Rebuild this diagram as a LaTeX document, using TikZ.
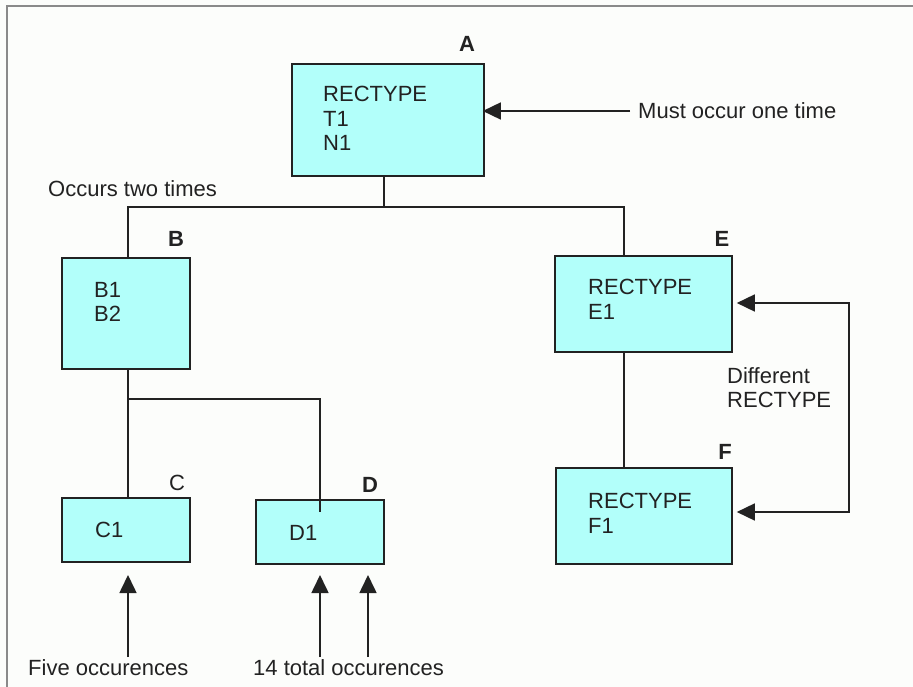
\documentclass[tikz,border=0pt]{standalone}
\usepackage{fontspec}
\setmainfont{Liberation Sans}
\usetikzlibrary{arrows.meta}
\definecolor{boxfill}{RGB}{178,255,250}
\definecolor{ink}{RGB}{34,34,34}
\definecolor{framegray}{RGB}{138,138,138}
\definecolor{bg}{RGB}{252,253,251}
\begin{document}
\begin{tikzpicture}[x=1pt,y=-1pt,
  box/.style={draw=ink,fill=boxfill,line width=1.6pt,inner sep=0pt},
  conn/.style={draw=ink,line width=1.6pt},
  tip/.tip={Triangle[length=18pt,width=17pt]},
  arr/.style={draw=ink,line width=1.6pt,-tip},
  txt/.style={inner sep=0pt,font=\fontsize{22}{24.5}\selectfont,text=ink,align=left},
  lbl/.style={inner sep=0pt,font=\fontsize{22}{24.5}\selectfont\bfseries,text=ink}]
\useasboundingbox (0,0) rectangle (913,687);
\fill[bg] (0,0) rectangle (913,687);
\draw[framegray,line width=2.2pt] (7,687) -- (7,6) -- (913,6);

% boxes
\node[box,minimum width=192pt,minimum height=112pt] (A) at (388,120) {};
\node[box,minimum width=128pt,minimum height=111pt] (B) at (126,313.5) {};
\node[box,minimum width=128pt,minimum height=64pt] (C) at (126,530) {};
\node[box,minimum width=128pt,minimum height=64pt] (D) at (320,532) {};
\node[box,minimum width=177pt,minimum height=96pt] (E) at (643.5,304) {};
\node[box,minimum width=176pt,minimum height=96pt] (F) at (644,516) {};

% box texts
\node[txt,anchor=north west] (Atxt) at (323,86) {RECTYPE\\T1\\N1};
\node[txt,anchor=north west] (Btxt) at (94,282) {B1\\B2};
\node[txt,anchor=west] (Ctxt) at (95,530) {C1};
\node[txt,anchor=west] (Dtxt) at (289,533) {D1};
\node[txt,anchor=north west] (Etxt) at (588,279) {RECTYPE\\E1};
\node[txt,anchor=north west] (Ftxt) at (588,493) {RECTYPE\\F1};

% letter labels
\node[lbl] (Alab) at (467,44) {A};
\node[lbl] (Blab) at (176,239) {B};
\node[txt] (Clab) at (177,483) {C};
\node[lbl] (Dlab) at (370,485) {D};
\node[lbl] (Elab) at (722,239) {E};
\node[lbl] (Flab) at (725,452) {F};

% annotations
\node[txt,anchor=west] (must) at (638,111) {Must occur one time};
\node[txt,anchor=west] (two) at (48,189) {Occurs two times};
\node[txt,anchor=north west] (diff) at (727,367) {Different\\RECTYPE};
\node[txt,anchor=west] (five) at (28,668) {Five occurences};
\node[txt,anchor=west] (total) at (253,668) {14 total occurences};

% tree connectors
\coordinate (jA) at (384,207);
\coordinate (busL) at (128,207);
\coordinate (busR) at (624,207);
\coordinate (jB) at (128,399);
\coordinate (busD) at (320,399);
\coordinate (dEnd) at (320,512);
\draw[conn] (jA |- A.south) -- (jA);
\draw[conn] (busL |- B.north) -- (busL) -- (busR) -- (busR |- E.north);
\draw[conn] (jB |- B.south) -- (jB) -- (busD) -- (dEnd);
\draw[conn] (jB) -- (jB |- C.north);
\draw[conn] (busR |- E.south) -- (busR |- F.north);

% arrows
\coordinate (mustStart) at (630,111);
\draw[arr,shorten >=-2pt] (mustStart) -- (A.east |- mustStart);
\coordinate (loopTop) at (849,303);
\coordinate (loopBot) at (849,512);
\draw[arr,tip-tip,shorten <=4pt,shorten >=4pt]
  (E.east |- loopTop) -- (loopTop) -- (loopBot) -- (F.east |- loopBot);
\coordinate (fiveBot) at (128,657);
\coordinate (fiveTop) at (128,575);
\coordinate (t1Bot) at (320,657);
\coordinate (t1Top) at (320,575);
\coordinate (t2Bot) at (368,657);
\coordinate (t2Top) at (368,575);
\draw[arr] (fiveBot) -- (fiveTop);
\draw[arr] (t1Bot) -- (t1Top);
\draw[arr] (t2Bot) -- (t2Top);
\end{tikzpicture}
\end{document}
